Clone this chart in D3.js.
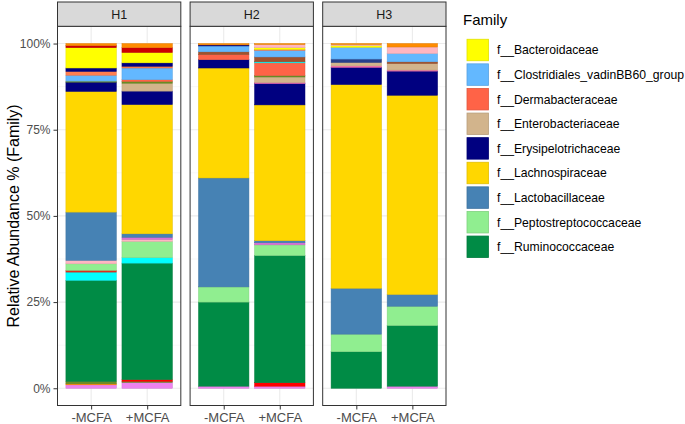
<!DOCTYPE html>
<html>
<head>
<meta charset="utf-8">
<script src="https://cdn.jsdelivr.net/npm/d3@7"></script>
<style>
  body { margin: 0; background: #fff; }
  text { font-family: "Liberation Sans", Arial, Helvetica, sans-serif; }
</style>
</head>
<body>
<svg id="chart" width="685" height="424"></svg>
<script>
// facets and x categories
const panels = ["H1", "H2", "H3"];
const treatments = ["-MCFA", "+MCFA"];

// families in stacking order, top of the bar first (ggplot puts the first level on top)
const families = [
  "other_01", "other_02", "other_03", "f__Bacteroidaceae", "other_04", "other_05",
  "f__Clostridiales_vadinBB60_group", "other_06", "other_07", "f__Dermabacteraceae",
  "other_08", "other_09", "f__Enterobacteriaceae", "other_10", "f__Erysipelotrichaceae",
  "other_11", "f__Lachnospiraceae", "f__Lactobacillaceae", "other_12", "other_13",
  "f__Peptostreptococcaceae", "other_14", "other_15", "f__Ruminococcaceae",
  "other_16", "other_17", "other_18", "other_19"
];
const familyColors = [
  "#FF8C00", "#FFB6C1", "#CD0000", "#FFFF00", "#000080", "#FF7F50",
  "#63B8FF", "#A0522D", "#00FFFF", "#FF6347",
  "#6B8E23", "#27408B", "#D2B48C", "#FF69B4", "#000080",
  "#6B8E23", "#FFD700", "#4682B4", "#DA70D6", "#FFB6C1",
  "#90EE90", "#E0301E", "#00FFFF", "#008B45",
  "#FF0000", "#6B8E23", "#FF8C00", "#EE82EE"
];
// only these appear in the legend
const legendFamilies = [
  "f__Bacteroidaceae", "f__Clostridiales_vadinBB60_group", "f__Dermabacteraceae",
  "f__Enterobacteriaceae", "f__Erysipelotrichaceae", "f__Lachnospiraceae",
  "f__Lactobacillaceae", "f__Peptostreptococcaceae", "f__Ruminococcaceae"
];

// relative abundance (%) per bar, same order as families
const h1Minus = [0.6, 0, 0.6, 5.9, 1.0, 1.1, 1.7, 0, 0, 0, 0.3, 0, 0, 0, 2.7, 0, 35.0, 14.0, 0, 1.0, 1.9, 0.5, 2.4, 29.3, 0, 0.7, 0.3, 1.0];
const h1Plus  = [1.2, 0, 1.4, 3.0, 1.0, 0.5, 3.4, 0, 0, 0.5, 0.5, 0, 2.3, 0, 3.9, 0, 37.5, 1.0, 0.6, 0.6, 4.7, 0, 1.6, 33.8, 0.5, 0.3, 0, 1.7];
const h2Minus = [0.4, 0, 0, 0, 0.3, 0, 1.7, 0.8, 0, 1.5, 0, 0, 0, 0, 2.4, 0, 31.9, 31.6, 0, 0, 4.4, 0, 0, 24.4, 0, 0, 0, 0.6];
const h2Plus  = [0.3, 0.9, 0, 0.5, 0, 0.3, 1.9, 1.4, 0.3, 3.7, 0.4, 0, 1.6, 0.3, 6.2, 0, 39.4, 0.6, 0.6, 0, 3.1, 0, 0, 36.9, 1.0, 0, 0, 0.6];
const h3Minus = [0.3, 0.3, 0, 0.5, 0, 0, 3.4, 0, 0, 0, 0, 1.0, 1.0, 0.4, 5.0, 0, 59.1, 13.3, 0, 0, 5.1, 0, 0, 10.6, 0, 0, 0, 0];
const h3Plus  = [1.0, 1.9, 0, 0, 0, 0, 2.4, 0.5, 0, 0, 0, 0, 1.9, 0.3, 7.0, 0, 57.8, 3.4, 0, 0, 5.6, 0, 0, 17.6, 0, 0, 0, 0.6];

const yTicks = [0, 25, 50, 75, 100];
const yMinor = [12.5, 37.5, 62.5, 87.5];

const svg = d3.select("#chart");

const panelTop = 26.3, panelBottom = 405.5;
const stripTop = 2;

// one row per bar
const barValues = [[h1Minus, h1Plus], [h2Minus, h2Plus], [h3Minus, h3Plus]];
const rows = [];
panels.forEach((p, i) => {
  treatments.forEach((t, j) => {
    const row = { panel: p, treatment: t };
    families.forEach((f, k) => { row[f] = barValues[i][j][k]; });
    rows.push(row);
  });
});

const color = d3.scaleOrdinal().domain(families).range(familyColors);

const fx = d3.scaleBand().domain(panels).range([57.5, 446]).paddingInner(0.07);
const x = d3.scalePoint().domain(treatments).range([0, fx.bandwidth()]).padding(0.6);
const barW = x.step() * 0.9;
const y = d3.scaleLinear().domain([-5, 105]).range([panelBottom, panelTop]);

// bottom of the stack is the last family
const stacked = d3.stack().keys(families.slice().reverse())(rows);

panels.forEach((p, i) => {
  const g = svg.append("g").attr("transform", "translate(" + fx(p) + ",0)");
  const w = fx.bandwidth();

  g.append("rect")
    .attr("x", 0).attr("y", panelTop)
    .attr("width", w).attr("height", panelBottom - panelTop)
    .attr("fill", "#fff");

  // grid
  g.selectAll(".minor").data(yMinor).enter().append("line")
    .attr("x1", 0).attr("x2", w)
    .attr("y1", d => y(d)).attr("y2", d => y(d))
    .attr("stroke", "#F2F2F2").attr("stroke-width", 0.6);
  g.selectAll(".major").data(yTicks).enter().append("line")
    .attr("x1", 0).attr("x2", w)
    .attr("y1", d => y(d)).attr("y2", d => y(d))
    .attr("stroke", "#EBEBEB").attr("stroke-width", 1.1);
  g.selectAll(".vmajor").data(treatments).enter().append("line")
    .attr("x1", d => x(d)).attr("x2", d => x(d))
    .attr("y1", panelTop).attr("y2", panelBottom)
    .attr("stroke", "#EBEBEB").attr("stroke-width", 1.1);

  // bars
  stacked.forEach(series => {
    const c = color(series.key);
    series.filter(d => d.data.panel === p && d[1] > d[0]).forEach(d => {
      g.append("rect")
        .attr("x", x(d.data.treatment) - barW / 2)
        .attr("y", y(d[1]))
        .attr("width", barW)
        .attr("height", y(d[0]) - y(d[1]))
        .attr("fill", c)
        .attr("stroke", d3.color(c).darker(0.35))
        .attr("stroke-width", 0.5);
    });
  });

  // panel border
  g.append("rect")
    .attr("x", 0).attr("y", panelTop)
    .attr("width", w).attr("height", panelBottom - panelTop)
    .attr("fill", "none").attr("stroke", "#333").attr("stroke-width", 1);

  // strip
  g.append("rect")
    .attr("x", 0).attr("y", stripTop)
    .attr("width", w).attr("height", panelTop - stripTop)
    .attr("fill", "#D9D9D9").attr("stroke", "#333").attr("stroke-width", 1);
  g.append("text")
    .attr("x", w / 2).attr("y", (stripTop + panelTop) / 2)
    .attr("dy", "0.36em")
    .attr("text-anchor", "middle")
    .attr("font-size", 12.5)
    .attr("fill", "#1A1A1A")
    .text(p);

  // x axis
  const xa = g.append("g")
    .attr("transform", "translate(0," + panelBottom + ")")
    .call(d3.axisBottom(x).tickSize(4).tickPadding(3));
  xa.select(".domain").remove();
  xa.selectAll(".tick line").attr("stroke", "#333");
  xa.selectAll(".tick text")
    .attr("font-size", 13).attr("fill", "#4D4D4D")
    .style("font-family", "'Liberation Sans', Arial, sans-serif");
});

// y axis on the first panel
const ya = svg.append("g")
  .attr("transform", "translate(" + fx(panels[0]) + ",0)")
  .call(d3.axisLeft(y).tickValues(yTicks).tickFormat(d => d + "%").tickSize(4).tickPadding(3));
ya.select(".domain").remove();
ya.selectAll(".tick line").attr("stroke", "#333");
ya.selectAll(".tick text")
  .attr("font-size", 12).attr("fill", "#4D4D4D")
  .style("font-family", "'Liberation Sans', Arial, sans-serif");

svg.append("text")
  .attr("transform", "translate(13," + ((panelTop + panelBottom) / 2) + ") rotate(-90)")
  .attr("text-anchor", "middle")
  .attr("dy", "0.36em")
  .attr("font-size", 16)
  .attr("fill", "#000")
  .text("Relative Abundance % (Family)");

// legend
const legend = svg.append("g").attr("transform", "translate(463,0)");
legend.append("text")
  .attr("x", 0).attr("y", 25)
  .attr("font-size", 15)
  .text("Family");

const keySize = 21.5, keyStep = 24.6, firstKey = 50;
legendFamilies.forEach((f, i) => {
  const cy = firstKey + i * keyStep;
  const c = color(f);
  legend.append("rect")
    .attr("x", 4).attr("y", cy - keySize / 2)
    .attr("width", keySize).attr("height", keySize)
    .attr("fill", c)
    .attr("stroke", d3.color(c).darker(0.35))
    .attr("stroke-width", 0.8);
  legend.append("text")
    .attr("x", 34).attr("y", cy)
    .attr("dy", "0.36em")
    .attr("font-size", 12.2)
    .attr("fill", "#000")
    .text(f);
});
</script>
</body>
</html>
